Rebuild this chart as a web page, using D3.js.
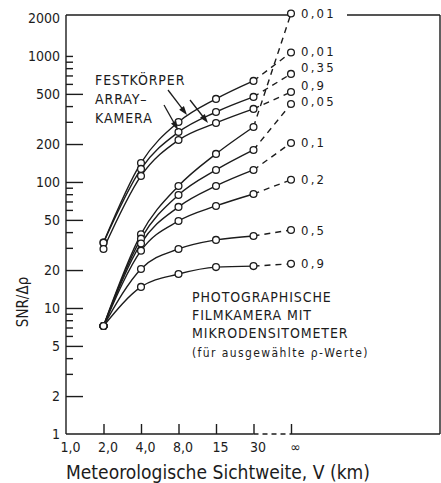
<!DOCTYPE html>
<html>
<head>
<meta charset="utf-8">
<script src="https://cdn.jsdelivr.net/npm/d3@7"></script>
<style>
  body { margin: 0; background: #fff; }
  svg text { font-family: "DejaVu Sans Condensed", "DejaVu Sans", sans-serif; fill: #1c1c1c; }
</style>
</head>
<body>
<svg width="441" height="483"></svg>
<script>
// visibility categories on the x axis (km), evenly spaced like the original
var xLabels = ["1,0", "2,0", "4,0", "8,0", "15", "30", "∞"];
// the categories that carry measured points
var pointCats = ["2,0", "4,0", "8,0", "15", "30", "∞"];

// solid state array camera, one row per rho value
var arrayRho = ["0,01", "0,35", "0,9"];
var arraySNR = [
  [33, 141.5, 299, 456, 634, 1066],
  [33, 127, 249, 359, 473, 720],
  [29.4, 111.6, 215, 294, 380, 518]
];

// film camera + microdensitometer, one row per rho value
var filmRho = ["0,01", "0,05", "0,1", "0,2", "0,5", "0,9"];
var filmSNR = [
  [7.2, 38.5, 93, 167, 273, 2170],
  [7.2, 35.5, 78.9, 124.5, 179.5, 416],
  [7.2, 32.5, 63.4, 93, 124.5, 204],
  [7.2, 28.5, 49, 64.5, 80.3, 104],
  [7.2, 20.4, 29.4, 34.7, 37.3, 41.6],
  [7.2, 14.7, 18.6, 21.1, 21.5, 22.4]
];

// y axis ticks
var yLabels = [1, 2, 5, 10, 20, 50, 100, 200, 500, 1000, 2000];
var yMajor = [2, 5, 10, 20, 50, 100, 200, 500];
var yMinor = [3, 4, 6, 7, 8, 9, 30, 40, 60, 70, 80, 90, 300, 400, 600, 700, 800, 900, 1000];

// setting up svg canvas
var svg = d3.select("svg"),
    width = +svg.attr("width"),
    height = +svg.attr("height");

var ink = "#1c1c1c";
var frame = {left: 66, right: 440, top: 15, bottom: 434};

var x = d3.scalePoint()
    .domain(xLabels)
    .range([frame.left, 291]);

var y = d3.scaleLog()
    .domain([1, 2000])
    .range([frame.bottom, 18]);

// ---- y axis: labels, long ticks, short ticks (all ticks point inward)
svg.append("g")
    .attr("transform", "translate(" + frame.left + ",0)")
    .call(d3.axisLeft(y).tickValues(yLabels).tickFormat(d3.format("d")).tickSize(0).tickPadding(6))
    .call(function(g) { g.select(".domain").remove(); })
    .attr("font-family", null)
    .attr("font-size", 14);

svg.append("g")
    .attr("transform", "translate(" + frame.left + ",0)")
    .call(d3.axisLeft(y).tickValues(yMajor).tickFormat("").tickSizeInner(-17).tickSizeOuter(0))
    .call(function(g) { g.select(".domain").remove(); });

svg.append("g")
    .attr("transform", "translate(" + frame.left + ",0)")
    .call(d3.axisLeft(y).tickValues(yMinor).tickFormat("").tickSizeInner(-7).tickSizeOuter(0))
    .call(function(g) { g.select(".domain").remove(); });

// ---- x axis
var xAxis = svg.append("g")
    .attr("transform", "translate(0," + frame.bottom + ")")
    .call(d3.axisBottom(x).tickSizeInner(-10).tickSizeOuter(0).tickPadding(8))
    .attr("font-family", null)
    .attr("font-size", 14);
xAxis.select(".domain").remove();
xAxis.selectAll(".tick").filter(function(d) { return d === "1,0"; }).select("line").remove();
xAxis.selectAll(".tick text").attr("dx", 4);

svg.selectAll(".tick line").attr("stroke", ink).attr("stroke-width", 1.4);

// ---- frame
var frameLines = svg.append("g")
    .attr("stroke", ink)
    .attr("stroke-width", 1.4)
    .attr("fill", "none");
frameLines.append("line")
    .attr("x1", frame.left).attr("x2", frame.left)
    .attr("y1", frame.top).attr("y2", frame.bottom);
frameLines.append("line")
    .attr("x1", frame.right).attr("x2", frame.right)
    .attr("y1", frame.top).attr("y2", frame.bottom);
frameLines.append("line")
    .attr("x1", frame.left).attr("x2", x("30"))
    .attr("y1", frame.bottom).attr("y2", frame.bottom);
frameLines.append("line")
    .attr("x1", x("30")).attr("x2", x("∞"))
    .attr("y1", frame.bottom).attr("y2", frame.bottom)
    .attr("stroke-dasharray", "5,4");
frameLines.append("line")
    .attr("x1", x("∞")).attr("x2", frame.right)
    .attr("y1", frame.bottom).attr("y2", frame.bottom);
// top border is broken where the top label sits
frameLines.append("line")
    .attr("x1", frame.left).attr("x2", 288)
    .attr("y1", frame.top).attr("y2", frame.top);
frameLines.append("line")
    .attr("x1", 347).attr("x2", frame.right)
    .attr("y1", frame.top).attr("y2", frame.top);

// ---- curves
var series = [];
arraySNR.forEach(function(vals, i) { series.push({rho: arrayRho[i], values: vals, kind: "array"}); });
filmSNR.forEach(function(vals, i) { series.push({rho: filmRho[i], values: vals, kind: "film"}); });
series.forEach(function(s) {
  s.points = s.values.map(function(v, j) { return {cat: pointCats[j], v: v}; });
});

var smooth = d3.line()
    .x(function(d) { return x(d.cat); })
    .y(function(d) { return y(d.v); })
    .curve(d3.curveMonotoneX);

var straight = d3.line()
    .x(function(d) { return x(d.cat); })
    .y(function(d) { return y(d.v); });

var curves = svg.append("g")
    .attr("fill", "none")
    .attr("stroke", ink)
    .attr("stroke-width", 1.4);

curves.selectAll("path.solid")
    .data(series)
  .enter().append("path")
    .attr("class", "solid")
    .attr("d", function(s) { return smooth(s.points.slice(0, 5)); });

curves.selectAll("path.dashed")
    .data(series)
  .enter().append("path")
    .attr("class", "dashed")
    .attr("stroke-dasharray", "6,5")
    .attr("d", function(s) { return straight(s.points.slice(4)); });

// circles drawn on top of lines
var allPoints = [];
series.forEach(function(s) { s.points.forEach(function(p) { allPoints.push(p); }); });

svg.append("g")
    .selectAll("circle")
    .data(allPoints)
  .enter().append("circle")
    .attr("cx", function(d) { return x(d.cat); })
    .attr("cy", function(d) { return y(d.v); })
    .attr("r", 3.4)
    .attr("fill", "#fff")
    .attr("stroke", ink)
    .attr("stroke-width", 1.3);

// rho labels next to the last point, some nudged to avoid overlap
var labelNudge = {"array0,01": -1, "array0,35": -6, "array0,9": -6, "film0,05": -2};

svg.append("g")
    .selectAll("text")
    .data(series)
  .enter().append("text")
    .attr("x", x("∞") + 10)
    .attr("y", function(s) { return y(s.values[5]) + (labelNudge[s.kind + s.rho] || 0); })
    .attr("dy", "0.35em")
    .attr("font-size", 13)
    .attr("letter-spacing", 2.2)
    .text(function(s) { return s.rho; });

// ---- annotations
var arrayNote = svg.append("text").attr("font-size", 14).attr("letter-spacing", 0.9);
[["FESTKÖRPER", 85], ["ARRAY–", 104], ["KAMERA", 123]].forEach(function(l) {
  arrayNote.append("tspan").attr("x", 95).attr("y", l[1]).text(l[0]);
});

// arrows from the note to the three array curves
var arrows = [[168, 90, 187, 115], [190, 100, 208, 123], [164, 105, 178, 130]];
var arrowG = svg.append("g");
arrows.forEach(function(a) {
  var ang = Math.atan2(a[3] - a[1], a[2] - a[0]);
  arrowG.append("line")
      .attr("x1", a[0]).attr("y1", a[1])
      .attr("x2", a[2] - 6 * Math.cos(ang)).attr("y2", a[3] - 6 * Math.sin(ang))
      .attr("stroke", ink).attr("stroke-width", 1.3);
  arrowG.append("path")
      .attr("d", "M0,0L-9,-3L-9,3Z")
      .attr("fill", ink)
      .attr("transform", "translate(" + a[2] + "," + a[3] + ")rotate(" + (ang * 180 / Math.PI) + ")");
});

var filmNote = svg.append("text").attr("font-size", 14).attr("letter-spacing", 0.9);
[["PHOTOGRAPHISCHE", 302], ["FILMKAMERA MIT", 320], ["MIKRODENSITOMETER", 338]].forEach(function(l) {
  filmNote.append("tspan").attr("x", 192).attr("y", l[1]).text(l[0]);
});
svg.append("text")
    .attr("x", 192)
    .attr("y", 357)
    .attr("font-size", 12)
    .attr("letter-spacing", 1.4)
    .text("(für ausgewählte ρ-Werte)");

// ---- axis titles
svg.append("text")
    .attr("x", frame.left)
    .attr("y", 479)
    .attr("font-size", 19)
    .attr("textLength", 304)
    .attr("lengthAdjust", "spacingAndGlyphs")
    .text("Meteorologische Sichtweite, V (km)");

svg.append("text")
    .attr("transform", "translate(28,302)rotate(-90)")
    .attr("text-anchor", "middle")
    .attr("font-size", 15)
    .text("SNR/Δρ");
</script>
</body>
</html>
